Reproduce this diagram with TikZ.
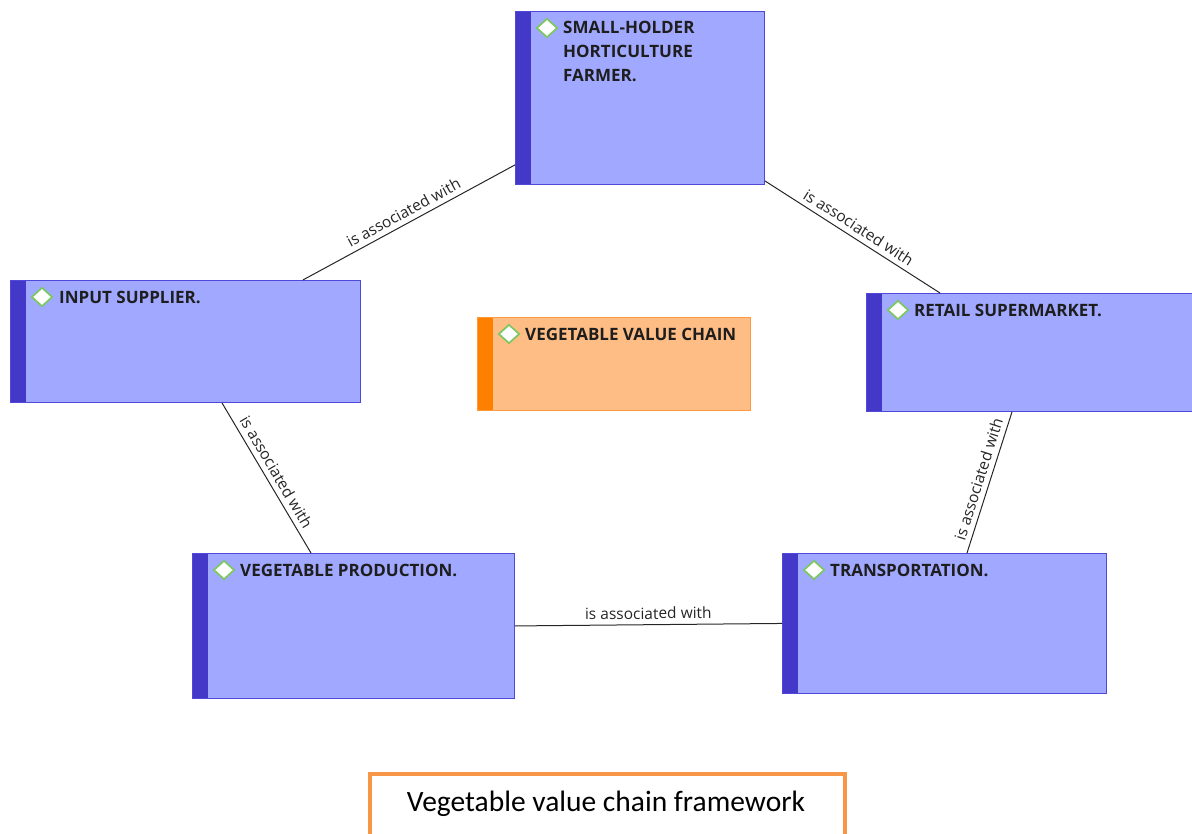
\documentclass[tikz,border=0pt]{standalone}
\usepackage{fontspec}
\setmainfont{Open Sans}
\newfontfamily\capfont{Carlito}
\usetikzlibrary{shapes.geometric,calc}
\definecolor{bluefill}{HTML}{A0A8FF}
\definecolor{blueedge}{HTML}{5048D8}
\definecolor{bluebar}{HTML}{4438C8}
\definecolor{orfill}{HTML}{FEBD85}
\definecolor{oredge}{HTML}{FF9A40}
\definecolor{orbar}{HTML}{FF7F00}
\definecolor{icongreen}{HTML}{7CC860}
\definecolor{titletext}{HTML}{1E1E1E}
\definecolor{capedge}{HTML}{F79646}
\begin{document}
\begin{tikzpicture}[x=1pt,y=-1pt,
  bluebox/.style={draw=blueedge, fill=bluefill, line width=0.9pt, inner sep=0, anchor=north west,
    path picture={\fill[bluebar] (path picture bounding box.north west) rectangle ([xshift=16pt]path picture bounding box.south west);}},
  orbox/.style={draw=oredge, fill=orfill, line width=0.9pt, inner sep=0, anchor=north west,
    path picture={\fill[orbar] (path picture bounding box.north west) rectangle ([xshift=16pt]path picture bounding box.south west);}},
  icon/.style={diamond, draw=icongreen, fill=white, line width=1.7pt, minimum width=21pt, minimum height=19pt, inner sep=0},
  title/.style={inner sep=0, anchor=north west, align=left, text=titletext, font=\bfseries\fontsize{17}{24}\selectfont},
  conn/.style={draw=black!85, line width=1pt},
  lbl/.style={midway, sloped, above, inner sep=5pt, text=black!85, font=\fontsize{15.5}{18}\selectfont},
  capbox/.style={draw=capedge, fill=white, line width=4pt, inner sep=0, anchor=north west}
]
\useasboundingbox (0,0) rectangle (1192,834);
\clip (0,0) rectangle (1192,834);

% boxes
\node[bluebox, minimum width=249pt, minimum height=173pt] (farmer) at (515,11) {};
\node[bluebox, minimum width=350pt, minimum height=122pt] (input) at (10,280) {};
\node[bluebox, minimum width=330pt, minimum height=118pt] (retail) at (866,293) {};
\node[bluebox, minimum width=322pt, minimum height=145pt] (veg) at (192,553) {};
\node[bluebox, minimum width=324pt, minimum height=140pt] (trans) at (782,553) {};
\node[orbox, minimum width=273pt, minimum height=93pt] (chain) at (477,317) {};

% icons and titles
\foreach \b in {farmer,input,retail,veg,trans,chain}{
  \node[icon] (\b-i) at ([xshift=32pt,yshift=-17pt]\b.north west) {};
}
\node[title] (farmer-t) at ([xshift=48pt,yshift=-10pt]farmer.north west) {SMALL-HOLDER\\HORTICULTURE\\FARMER.};
\node[title] (input-t) at ([xshift=49pt,yshift=-11pt]input.north west) {INPUT SUPPLIER.};
\node[title] (retail-t) at ([xshift=48pt,yshift=-11pt]retail.north west) {RETAIL SUPERMARKET.};
\node[title] (veg-t) at ([xshift=48pt,yshift=-11pt]veg.north west) {VEGETABLE PRODUCTION.};
\node[title] (trans-t) at ([xshift=48pt,yshift=-11pt]trans.north west) {TRANSPORTATION.};
\node[title] (chain-t) at ([xshift=48pt,yshift=-11pt]chain.north west) {VEGETABLE VALUE CHAIN};

% connectors
\draw[conn] ([yshift=20pt]farmer.south west) -- node[lbl] (l1) {is associated with} ([xshift=-58pt]input.north east);
\draw[conn] ([yshift=4pt]farmer.south east) -- node[lbl] (l2) {is associated with} ([xshift=74pt]retail.north west);
\draw[conn] ([xshift=212pt]input.south west) -- node[lbl] (l3) {is associated with} ([xshift=119pt]veg.north west);
\draw[conn] ([xshift=146pt]retail.south west) -- node[lbl] (l4) {is associated with} ([xshift=185pt]trans.north west);
\draw[conn] (veg.east) -- node[lbl] (l5) {is associated with} (trans.west);

% caption
\node[capbox, minimum width=475pt, minimum height=80pt] (cap) at (368,772) {};
\node[inner sep=0, font=\capfont\fontsize{29.5}{34}\selectfont] (cap-t) at (606,804) {Vegetable value chain framework};
\end{tikzpicture}
\end{document}
